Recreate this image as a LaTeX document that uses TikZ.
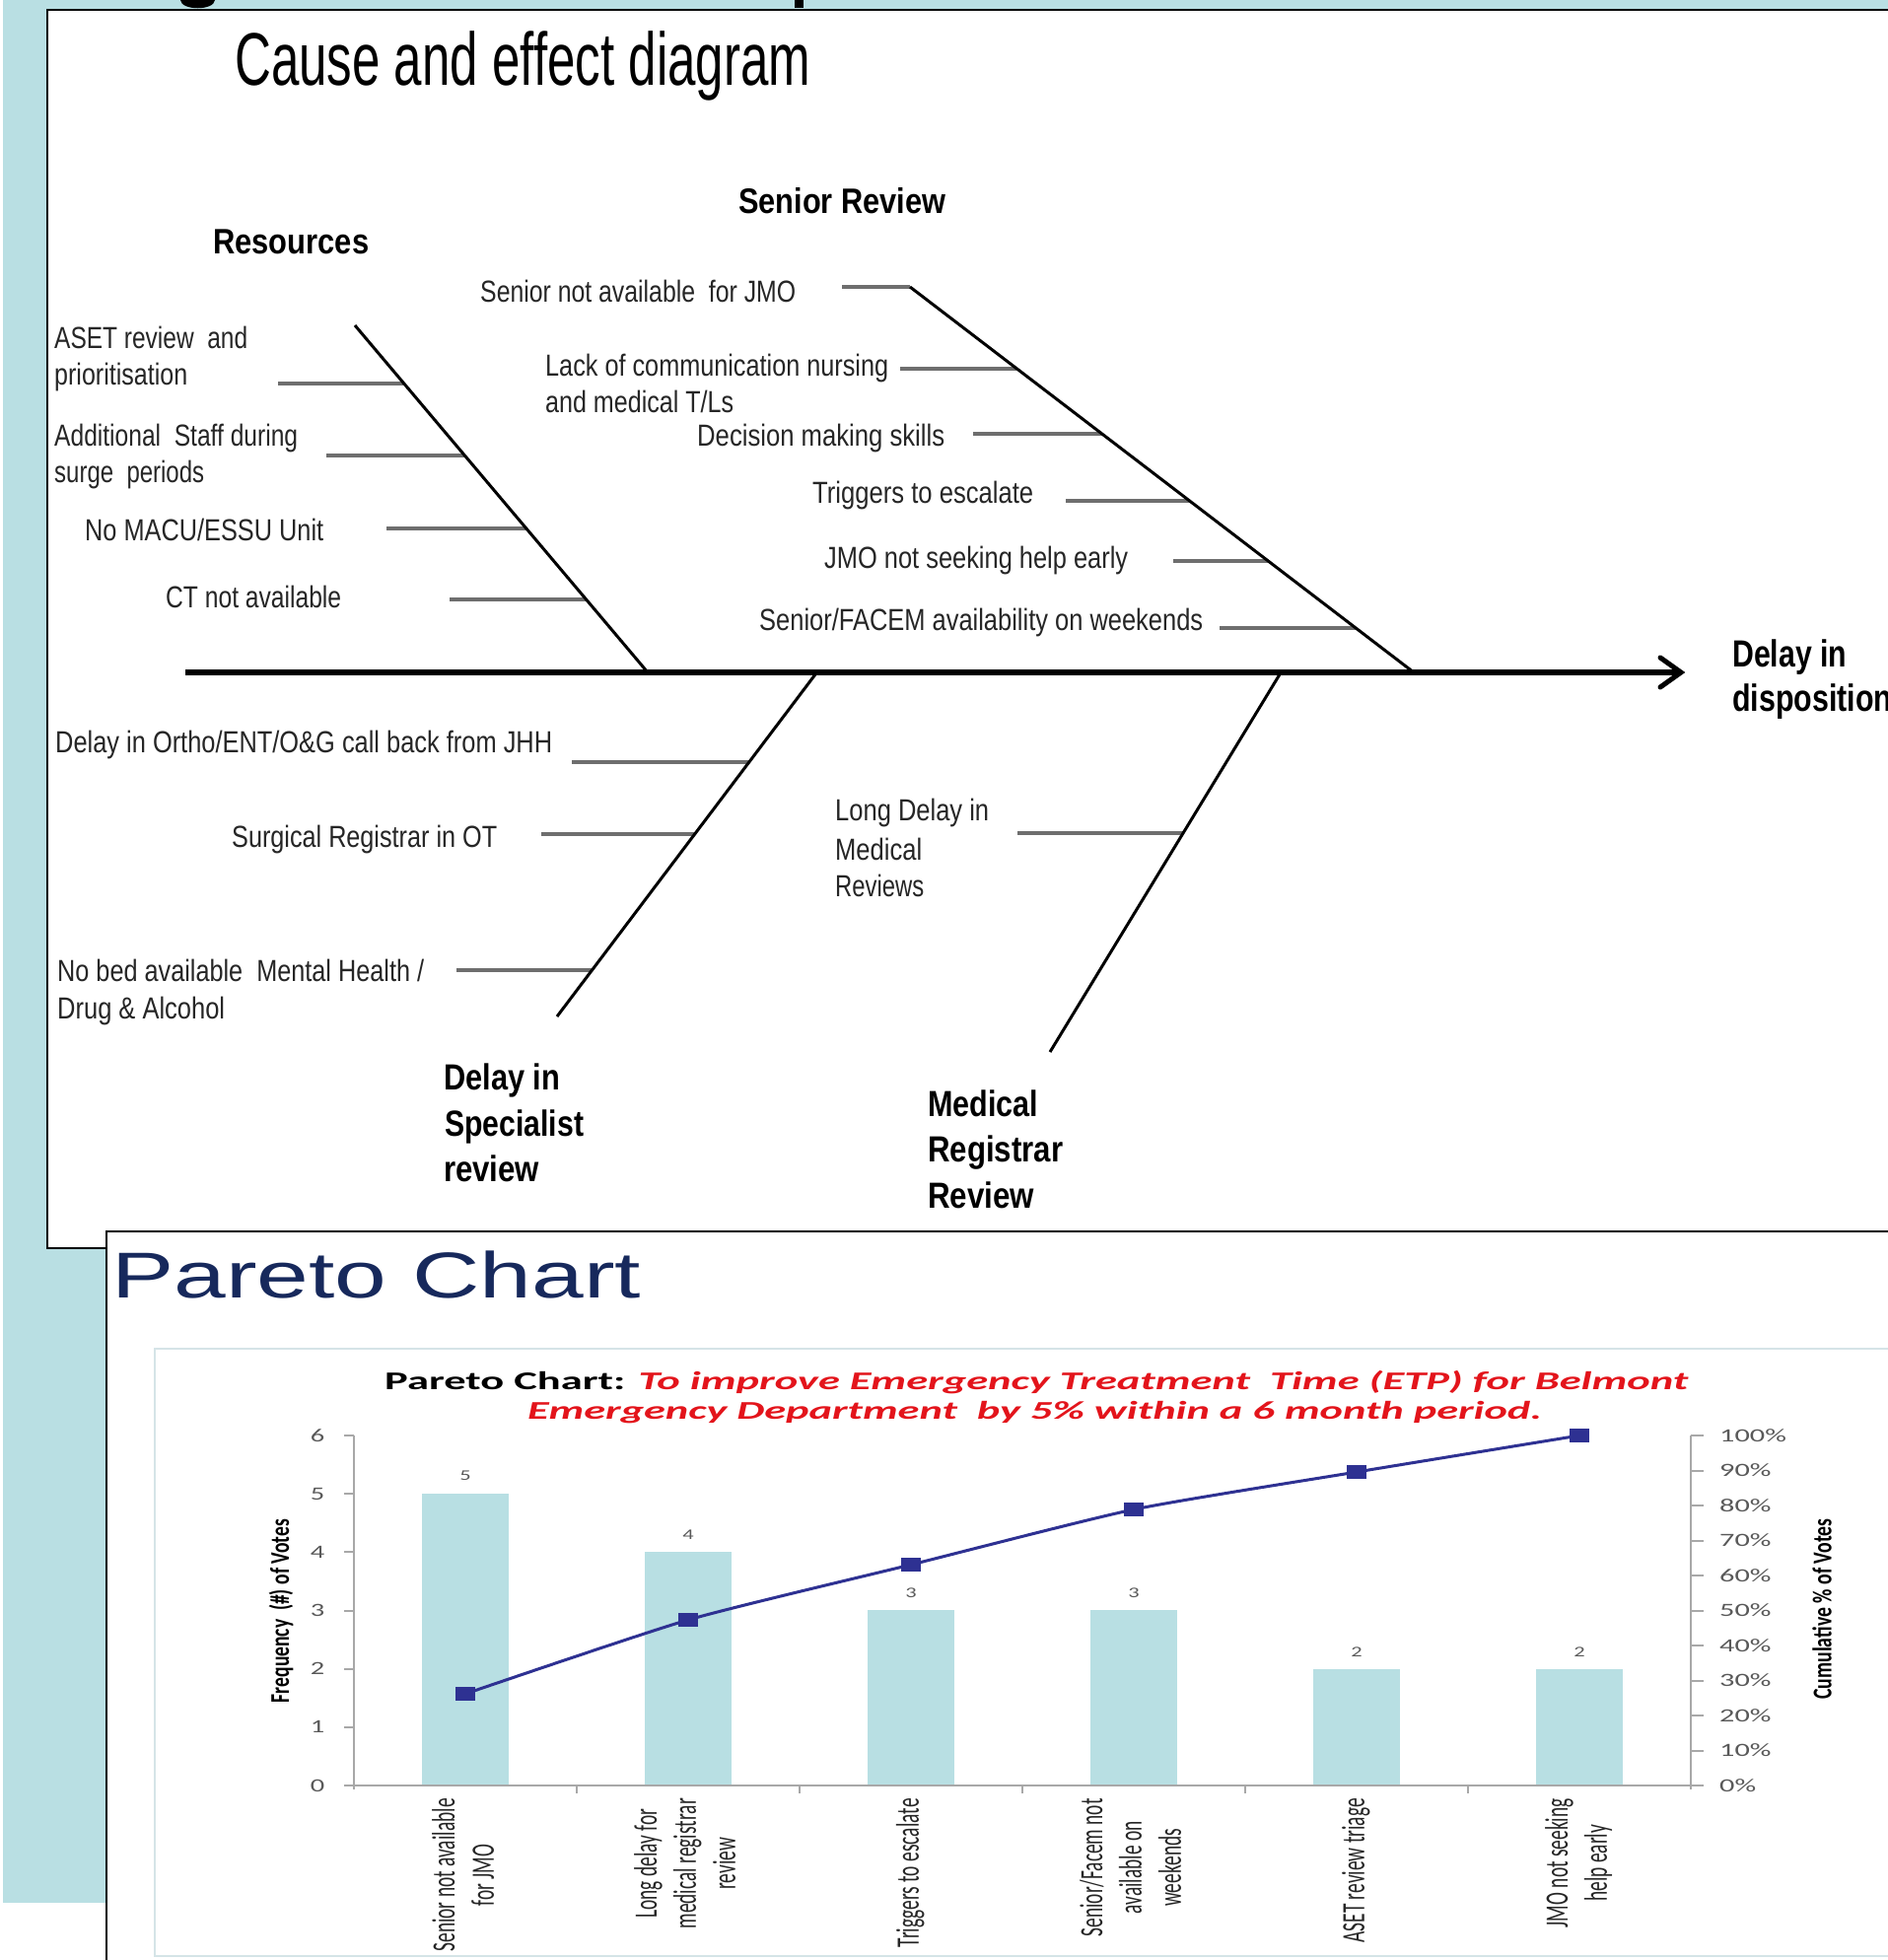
\documentclass[tikz,border=0pt]{standalone}
\usepackage{fontspec}
\usepackage{graphicx}
\setmainfont{Liberation Sans}
\newfontfamily\calfont{Carlito}
\definecolor{bgblue}{HTML}{B9DFE3}
\definecolor{barblue}{HTML}{B8DFE3}
\definecolor{navy}{HTML}{17295C}
\definecolor{linenavy}{HTML}{2E3192}
\definecolor{ttlred}{HTML}{E3141B}
\definecolor{axisgray}{HTML}{A8A8A8}
\definecolor{framegray}{HTML}{D5E4E7}
\definecolor{ribgray}{HTML}{6E6E6E}
\definecolor{ticktxt}{HTML}{595959}
\newcommand{\fitw}[2]{\resizebox{#1}{\height}{#2}}
\begin{document}
\begin{tikzpicture}[x=1bp,y=-1bp,
  lbl/.style={inner sep=0pt, anchor=base west, text=black!85, font=\fontsize{31}{38}\selectfont},
  head/.style={inner sep=0pt, anchor=base west, text=black, font=\bfseries\fontsize{36}{44}\selectfont},
  bhead/.style={inner sep=0pt, anchor=base west, text=black, font=\bfseries\fontsize{37}{46}\selectfont},
  bone/.style={line width=3bp, black},
  rib/.style={line width=3.5bp, ribgray},
  spineline/.style={line width=5.5bp, black},
  headline/.style={line width=5bp, black, line cap=round, line join=miter},
  axisline/.style={line width=2bp, axisgray},
  ticklbl/.style={inner sep=0pt, text=ticktxt, font=\calfont\fontsize{19}{23}\selectfont},
  catlbl/.style={inner sep=0pt, rotate=90, anchor=east, text=black!85, font=\calfont\fontsize{19.5}{23.5}\selectfont},
  vallbl/.style={inner sep=0pt, text=ticktxt, font=\calfont\fontsize{15}{18}\selectfont},
  marker/.style={rectangle, fill=linenavy, draw=none, minimum width=20bp, minimum height=14bp, inner sep=0pt},
  cumline/.style={line width=3bp, linenavy},
  bar/.style={fill=barblue, draw=none},
]
\useasboundingbox (0,0) rectangle (1915,1988);
\clip (0,0) rectangle (1915,1988);
\fill[white] (0,0) rectangle (1915,1988);
\fill[bgblue] (3,0) rectangle (1915,1930);
% fragments of the cut-off slide heading
\fill[black] (183,0) .. controls (184,11) and (217,11) .. (218,0) -- cycle;
\fill[black] (806,0) rectangle (815,8);

% ================= cause and effect panel =================
\draw[fill=white, line width=2.5bp] (48,10) rectangle (1940,1266);
\node[inner sep=0pt, anchor=base west, text=black, font=\fontsize{76}{90}\selectfont] (title) at (238,86) {\fitw{584bp}{Cause and effect diagram}};

% ribs
\coordinate (r1a) at (282,389);  \coordinate (r1b) at (410,389);
\coordinate (r2a) at (331,462);  \coordinate (r2b) at (472,462);
\coordinate (r3a) at (392,536);  \coordinate (r3b) at (534,536);
\coordinate (r4a) at (456,608);  \coordinate (r4b) at (595,608);
\coordinate (s1a) at (854,291);  \coordinate (s1b) at (923,291);
\coordinate (s2a) at (913,374);  \coordinate (s2b) at (1031,374);
\coordinate (s3a) at (987,440);  \coordinate (s3b) at (1118,440);
\coordinate (s4a) at (1081,508); \coordinate (s4b) at (1207,508);
\coordinate (s5a) at (1190,569); \coordinate (s5b) at (1286,569);
\coordinate (s6a) at (1237,637); \coordinate (s6b) at (1375,637);
\coordinate (d1a) at (580,773);  \coordinate (d1b) at (760,773);
\coordinate (d2a) at (549,846);  \coordinate (d2b) at (705,846);
\coordinate (d3a) at (463,984);  \coordinate (d3b) at (600,984);
\coordinate (m1a) at (1032,845); \coordinate (m1b) at (1200,845);
\foreach \r in {r1,r2,r3,r4,s1,s2,s3,s4,s5,s6,d1,d2,d3,m1}
  \draw[rib] (\r a) -- (\r b);

% bones
\coordinate (resT) at (360,330);  \coordinate (resB) at (657,682);
\coordinate (snrT) at (923,291);  \coordinate (snrB) at (1434,682);
\coordinate (speT) at (827,684);  \coordinate (speB) at (565,1031);
\coordinate (medT) at (1298,684); \coordinate (medB) at (1065,1067);
\draw[bone] (resT) -- (resB);
\draw[bone] (snrT) -- (snrB);
\draw[bone] (speT) -- (speB);
\draw[bone] (medT) -- (medB);

% spine with open arrow head
\coordinate (spL) at (188,682);
\coordinate (spR) at (1705,682);
\coordinate (ahU) at (1684,667);
\coordinate (ahD) at (1684,697);
\draw[spineline] (spL) -- (spR);
\draw[headline] (ahU) -- (spR) -- (ahD);

% headings
\node[head] (resH) at (216,257) {\fitw{158bp}{Resources}};
\node[head] (srvH) at (749,216) {\fitw{210bp}{Senior Review}};
\node[bhead] (spH1) at (450,1105) {\fitw{118bp}{Delay in}};
\node[bhead] (spH2) at (451,1152) {\fitw{141bp}{Specialist}};
\node[bhead] (spH3) at (450,1198) {\fitw{97bp}{review}};
\node[bhead] (mdH1) at (941,1132) {\fitw{112bp}{Medical}};
\node[bhead] (mdH2) at (941,1178) {\fitw{137bp}{Registrar}};
\node[bhead] (mdH3) at (941,1225) {\fitw{108bp}{Review}};
\node[inner sep=0pt, anchor=base west, font=\bfseries\fontsize{38.5}{46}\selectfont] (effA) at (1757,676) {\fitw{116bp}{Delay in}};
\node[inner sep=0pt, anchor=base west, font=\bfseries\fontsize{38.5}{46}\selectfont] (effB) at (1757,721) {\fitw{162bp}{disposition}};

% cause labels
\node[lbl] (asetA) at (55,353) {\fitw{196bp}{ASET review\ \ and}};
\node[lbl] (asetB) at (55,390) {\fitw{135bp}{prioritisation}};
\node[lbl] (addA) at (55,452) {\fitw{247bp}{Additional\ \ Staff during}};
\node[lbl] (addB) at (55,489) {\fitw{152bp}{surge\ \ periods}};
\node[lbl] (macu) at (86,548) {\fitw{242bp}{No MACU/ESSU Unit}};
\node[lbl] (ctna) at (168,616) {\fitw{178bp}{CT not available}};
\node[lbl] (snr) at (487,306) {\fitw{320bp}{Senior not available\ \ for JMO}};
\node[lbl] (lackA) at (553,381) {\fitw{348bp}{Lack of communication nursing}};
\node[lbl] (lackB) at (553,418) {\fitw{191bp}{and medical T/Ls}};
\node[lbl] (dec) at (707,452) {\fitw{251bp}{Decision making skills}};
\node[lbl] (trig) at (824,510) {\fitw{224bp}{Triggers to escalate}};
\node[lbl] (jmo) at (836,576) {\fitw{308bp}{JMO not seeking help early}};
\node[lbl] (facem) at (770,639) {\fitw{450bp}{Senior/FACEM availability on weekends}};
\node[lbl] (ortho) at (56,763) {\fitw{504bp}{Delay in Ortho/ENT/O\&G call back from JHH}};
\node[lbl] (surg) at (235,859) {\fitw{269bp}{Surgical Registrar in OT}};
\node[lbl] (bedA) at (58,995) {\fitw{372bp}{No bed available\ \ Mental Health /}};
\node[lbl] (bedB) at (58,1033) {\fitw{170bp}{Drug \& Alcohol}};
\node[lbl] (longA) at (847,832) {\fitw{156bp}{Long Delay in}};
\node[lbl] (longB) at (847,872) {\fitw{88bp}{Medical}};
\node[lbl] (longC) at (847,909) {\fitw{90bp}{Reviews}};

% ================= Pareto panel =================
\draw[fill=white, line width=2.5bp] (108,1249) rectangle (1940,2010);
\node[inner sep=0pt, anchor=base west, text=navy, font=\fontsize{66}{80}\selectfont] (ptitle) at (113,1316) {\fitw{537bp}{Pareto Chart}};
\draw[framegray, line width=2.5bp, fill=white] (157,1368) rectangle (1940,1984);

\node[inner sep=0pt, anchor=base west, font=\calfont\bfseries\fontsize{26}{32}\selectfont] (ct1) at (390,1409)
  {\fitw{1322bp}{Pareto Chart: \textcolor{ttlred}{\itshape To improve Emergency Treatment\ \ Time (ETP) for Belmont}}};
\node[inner sep=0pt, anchor=base west, font=\calfont\bfseries\fontsize{26}{32}\selectfont] (ct2) at (535,1439)
  {\fitw{1029bp}{\textcolor{ttlred}{\itshape Emergency Department\ \ by 5\% within a 6 month period.}}};

% bars
\fill[bar] (428,1515) rectangle (516,1811);
\fill[bar] (654,1574) rectangle (742,1811);
\fill[bar] (880,1633) rectangle (968,1811);
\fill[bar] (1106,1633) rectangle (1194,1811);
\fill[bar] (1332,1693) rectangle (1420,1811);
\fill[bar] (1558,1693) rectangle (1646,1811);

% axes
\draw[axisline] (359,1456) -- (359,1815);
\draw[axisline] (1715,1456) -- (1715,1815);
\draw[axisline] (359,1811) -- (1715,1811);
\foreach \k in {0,...,6} {
  \draw[axisline] (349,{1811-59.17*\k}) -- (359,{1811-59.17*\k});
  \node[ticklbl] (yt\k) at (322,{1811-59.17*\k}) {\scalebox{1.5}[1]{\k}};
}
\foreach \p in {0,10,...,100} {
  \draw[axisline] (1715,{1811-3.55*\p}) -- (1728,{1811-3.55*\p});
  \node[ticklbl, anchor=west] (pt\p) at (1744,{1811-3.55*\p}) {\scalebox{1.6}[1]{\p\%}};
}
\foreach \x in {585,811,1037,1263,1489}
  \draw[axisline] (\x,1811) -- (\x,1819);

% value labels
\node[vallbl] (v1) at (472,1497) {\scalebox{1.5}[1]{5}};
\node[vallbl] (v2) at (698,1557) {\scalebox{1.5}[1]{4}};
\node[vallbl] (v3) at (924,1616) {\scalebox{1.5}[1]{3}};
\node[vallbl] (v4) at (1150,1616) {\scalebox{1.5}[1]{3}};
\node[vallbl] (v5) at (1376,1676) {\scalebox{1.5}[1]{2}};
\node[vallbl] (v6) at (1602,1676) {\scalebox{1.5}[1]{2}};

% axis titles
\node[rotate=90, inner sep=0pt, text=black, font=\calfont\bfseries\fontsize{19}{23}\selectfont] (yaxL) at (285,1634)
  {\scalebox{1}[1.45]{\fitw{186bp}{Frequency\ \ (\#) of Votes}}};
\node[rotate=90, inner sep=0pt, text=black, font=\calfont\bfseries\fontsize{19}{23}\selectfont] (yaxR) at (1848,1632)
  {\scalebox{1}[1.45]{\fitw{183bp}{Cumulative \% of Votes}}};

% category labels
\node[catlbl] (cat1) at (473,1824) {\scalebox{1}[1.7]{\begin{tabular}{@{}c@{}}Senior not available\\for JMO\end{tabular}}};
\node[catlbl] (cat2) at (698,1824) {\scalebox{1}[1.7]{\begin{tabular}{@{}c@{}}Long delay for\\medical registrar\\review\end{tabular}}};
\node[catlbl] (cat3) at (924,1824) {\scalebox{1}[1.7]{\begin{tabular}{@{}c@{}}Triggers to escalate\end{tabular}}};
\node[catlbl] (cat4) at (1150,1824) {\scalebox{1}[1.7]{\begin{tabular}{@{}c@{}}Senior/Facem not\\available on\\weekends\end{tabular}}};
\node[catlbl] (cat5) at (1376,1824) {\scalebox{1}[1.7]{\begin{tabular}{@{}c@{}}ASET review triage\end{tabular}}};
\node[catlbl] (cat6) at (1602,1824) {\scalebox{1}[1.7]{\begin{tabular}{@{}c@{}}JMO not seeking\\help early\end{tabular}}};

% cumulative line with markers
\node[marker] (mk1) at (472,1718) {};
\node[marker] (mk2) at (698,1643) {};
\node[marker] (mk3) at (924,1587) {};
\node[marker] (mk4) at (1150,1531) {};
\node[marker] (mk5) at (1376,1493) {};
\node[marker] (mk6) at (1602,1456) {};
\draw[cumline] plot[smooth, tension=0.35] coordinates {(mk1.center) (mk2.center) (mk3.center) (mk4.center) (mk5.center) (mk6.center)};
\end{tikzpicture}
\end{document}
